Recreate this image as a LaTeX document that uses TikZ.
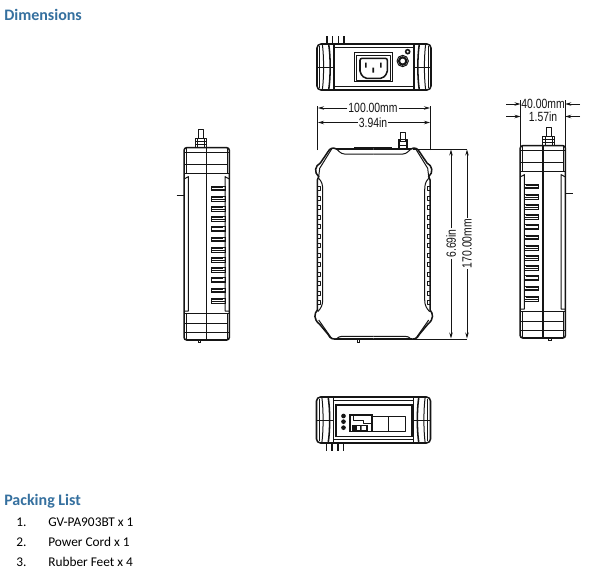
\documentclass[tikz,border=0pt]{standalone}
\usepackage{fontspec}
\setmainfont{Carlito}
\newfontfamily\dimfont[FakeStretch=0.78]{Liberation Sans}
\usetikzlibrary{arrows.meta}
\definecolor{headblue}{HTML}{35709F}
\definecolor{inkline}{HTML}{151515}
\tikzset{
  px/.style={x=0.75pt,y=-0.75pt},
  zoomat/.style 2 args={x=0.25pt,y=-0.25pt,shift={(#1*0.75pt,-#2*0.75pt)}},
  part/.style={draw=inkline,line width=0.75pt,line join=round},
  thinpart/.style={draw=inkline,line width=0.55pt},
  heavy/.style={draw=inkline,line width=1.15pt},
  heading/.style={anchor=west,inner sep=0pt,text=headblue,font=\fontsize{12}{14}\selectfont\bfseries},
  listtext/.style={anchor=west,inner sep=0pt,text=black,font=\fontsize{10}{12}\selectfont},
  dimlabel/.style={inner sep=0.6pt,text=inkline,font=\dimfont\fontsize{10}{10}\selectfont},
  dimline/.style={draw=inkline,line width=0.6pt,-{Stealth[length=4.5pt,width=2.6pt]}},
  extline/.style={draw=inkline,line width=0.6pt},
}
% side view, origin on centre line; vents to the right, connector to the left
\newcommand{\sideview}{%
  \draw[heavy,rounded corners=2pt] (-68,68) rectangle (68,645);
  \draw[heavy] (0,68) -- (0,645);
  \foreach \yy in {82,145,565,622}{\draw[part] (-68,\yy) -- (68,\yy);}
  \draw[heavy] (-64,118) -- (64,118);
  \draw[heavy] (-64,595) -- (64,595);
  \draw[thinpart] (-62,68) -- (-62,145) (62,68) -- (62,145) (-62,565) -- (-62,645) (62,565) -- (62,645);
  \draw[part] (-68,162) -- (-55,155) -- (-55,558) -- (-68,558);
  \draw[part] (68,162) -- (55,155) -- (55,558) -- (68,558);
  \foreach \i in {0,...,11}{
    \pgfmathsetmacro{\vy}{183+30.6*\i}
    \draw[thinpart] (14,\vy) rectangle (55,\vy+14);
    \fill[inkline] (14,\vy) rectangle (50,\vy+4.5);
    \draw[part] (14,\vy+10) -- (55,\vy+10);
  }
  \draw[part] (-25,12) rectangle (-10,40);
  \draw[part] (-35,40) rectangle (0,68);
  \draw[thinpart] (-28,40) -- (-28,68) (-7,40) -- (-7,68) (-35,50) -- (0,50) (-35,58) -- (0,58);
  \draw[heavy] (-90,212) -- (-68,212);
  \draw[thinpart] (-26,645) -- (-26,652) -- (-18,652) -- (-18,645);
}
% end view, origin at centre, pins on the side given by #1 (-1 up, +1 down)
\newcommand{\capview}[1]{%
  \draw[heavy,rounded corners=3pt] (-171,-69) rectangle (171,69);
  \draw[part] (-120,-58) rectangle (120,58);
  \foreach \s in {-1,1}{
    \begin{scope}[xscale=\s]
      \draw[heavy] (120,-69) -- (120,69);
      \draw[heavy] (136,-69) .. controls (130,-30) and (130,30) .. (136,69);
      \draw[part] (155,-69) .. controls (150,-30) and (150,30) .. (155,69);
      \draw[thinpart] (163,-62) -- (163,62);
      \draw[part] (120,0) -- (171,0);
    \end{scope}
  }
  \foreach \pinx in {-141,-124,-107,-90}{
    \draw[heavy] (\pinx,#1*69) -- (\pinx,#1*92);
  }
  \draw[thinpart] (-85,#1*69) -- (-60,#1*69);
}
\begin{document}
\begin{tikzpicture}[px]
\useasboundingbox (0,0) rectangle (600,586);
\fill[white] (0,0) rectangle (600,586);
% Headings and list
\node[heading] (hdim) at (4,14.5) {Dimensions};
\node[heading] (hpack) at (4,501) {Packing List};
\node[listtext] (n1) at (16,522) {1.};
\node[listtext] (l1) at (48,522) {GV-PA903BT x 1};
\node[listtext] (n2) at (16,542) {2.};
\node[listtext] (l2) at (48,542) {Power Cord x 1};
\node[listtext] (n3) at (16,562) {3.};
\node[listtext] (l3) at (48,562) {Rubber Feet x 4};
% Top view
\begin{scope}[zoomat={374}{67}]
  \capview{-1}
  \fill[white] (-59,-43) rectangle (56,44);
  \draw[heavy] (-59,-43) rectangle (56,44);
  \draw[part] (-52,-36) rectangle (50,39);
  \draw[heavy,rounded corners=1.5pt] (-42,-26) -- (40,-26) -- (40,18) -- (26,34) -- (-28,34) -- (-42,18) -- cycle;
  \fill[inkline] (-27,-13) rectangle (-22,2) (-5,2) rectangle (0,17) (18,-13) rectangle (23,2);
  \fill[white] (86,-18) circle[radius=20];
  \draw[heavy,line width=1.6pt] (86,-18) circle[radius=11];
  \draw[part] (86,-18) circle[radius=17];
  \draw[heavy,line width=1.2pt] (101,-46) circle[radius=6];
\end{scope}
% Front view
\begin{scope}[zoomat={373.7}{135}]
\foreach \s in {-1,1}{
  \begin{scope}[xscale=\s]
    \draw[heavy] (0,42) -- (112,42) .. controls (122,36) and (132,40) .. (137,50) -- (160,84) .. controls (176,92) and (180,112) .. (165,125) -- (169,135) -- (169,525) .. controls (178,535) and (182,552) .. (162,568) -- (137,598) .. controls (130,614) and (118,612) .. (112,612) -- (0,612);
    \draw[part] (0,57) -- (88,57) .. controls (100,56) and (104,48) .. (112,42);
    \draw[part] (0,604) -- (92,604) .. controls (104,604) and (108,608) .. (112,612);
    \draw[part] (125,40) -- (162,100) -- (165,125);
    \draw[part] (125,612) -- (165,555);
    \draw[part] (165,130) .. controls (155,140) and (153,150) .. (153,165) -- (153,495) .. controls (153,510) and (158,520) .. (168,530);
    \foreach \i in {0,...,12}{
      \pgfmathsetmacro{\vy}{155+28.5*\i}
      \draw[part] (169,\vy) -- (160,\vy) -- (160,\vy+12) -- (169,\vy+12);
    }
  \end{scope}
}
  \draw[heavy] (-58,38) -- (55,38);
  \draw[heavy] (-10,614) -- (50,614);
  \draw[thinpart] (-50,612) -- (-50,622) -- (-44,622) -- (-44,612);
  % connector
  \draw[part] (80,-8) rectangle (95,20);
  \draw[part] (73,12) rectangle (102,40);
  \draw[thinpart] (78,12) -- (78,40) (97,12) -- (97,40) (73,20) -- (102,20) (73,30) -- (102,30);
\end{scope}
% Side views
\begin{scope}[zoomat={206.7}{125}]
  \sideview
\end{scope}
\begin{scope}[zoomat={542.8}{123},xscale=-1]
  \sideview
\end{scope}
% Bottom view
\begin{scope}[zoomat={373.5}{420}]
  \capview{1}
  \fill[white] (-113,-45) rectangle (115,50);
  \draw[heavy] (-113,-45) rectangle (115,50);
  \draw[heavy] (-70,-15) rectangle (-5,35);
  \draw[part] (-5,-12) rectangle (45,33);
  \draw[part] (45,-12) rectangle (95,33);
  \draw[part] (-60,-15) -- (-60,0) -- (-30,0) -- (-30,10) -- (-5,10);
  \fill[inkline] (-90,-12) circle[radius=7] (-90,5) circle[radius=7] (-90,23) circle[radius=7];
  \draw[heavy] (-62,16) rectangle (-20,32);
  \fill[inkline] (-58,18) rectangle (-50,30) (-40,18) rectangle (-36,30);
\end{scope}
% Dimensions: width
\coordinate (wl) at (317.5,150);
\coordinate (wlt) at (317.5,106);
\coordinate (wr) at (430.5,150);
\coordinate (wrt) at (430.5,106);
\draw[extline] (wl) -- (wlt) (wr) -- (wrt);
\node[dimlabel] (w100) at (373,108) {100.00mm};
\node[dimlabel] (w394) at (373,122.5) {3.94in};
\coordinate (a1) at (318,108); \coordinate (a2) at (430,108);
\coordinate (a3) at (318,122.5); \coordinate (a4) at (430,122.5);
\draw[dimline] (w100) -- (a1);
\draw[dimline] (w100) -- (a2);
\draw[dimline] (w394) -- (a3);
\draw[dimline] (w394) -- (a4);
% Dimensions: height
\coordinate (ht) at (413,149); \coordinate (htr) at (467,149);
\coordinate (hb) at (413,339); \coordinate (hbr) at (467,339);
\draw[extline] (ht) -- (htr) (hb) -- (hbr);
\node[dimlabel,rotate=90] (h669) at (451,243.5) {6.69in};
\node[dimlabel,rotate=90] (h170) at (467,243.5) {170.00mm};
\coordinate (b1) at (451,149.5); \coordinate (b2) at (451,338.5);
\coordinate (b3) at (467,149.5); \coordinate (b4) at (467,338.5);
\draw[dimline] (h669) -- (b1);
\draw[dimline] (h669) -- (b2);
\draw[dimline] (h170) -- (b3);
\draw[dimline] (h170) -- (b4);
% Dimensions: depth
\coordinate (dl) at (520.7,148); \coordinate (dlt) at (520.7,100);
\coordinate (dr) at (565,148); \coordinate (drt) at (565,100);
\draw[extline] (dl) -- (dlt) (dr) -- (drt);
\node[dimlabel] (d40) at (543,104) {40.00mm};
\node[dimlabel] (d157) at (543,116.5) {1.57in};
\coordinate (c1) at (506,104); \coordinate (c1a) at (520.5,104);
\coordinate (c2) at (580,104); \coordinate (c2a) at (565.2,104);
\coordinate (c3) at (506,116.5); \coordinate (c3a) at (520.5,116.5);
\coordinate (c4) at (580,116.5); \coordinate (c4a) at (565.2,116.5);
\draw[dimline] (c1) -- (c1a);
\draw[dimline] (c2) -- (c2a);
\draw[dimline] (c3) -- (c3a);
\draw[dimline] (c4) -- (c4a);
\end{tikzpicture}
\end{document}
